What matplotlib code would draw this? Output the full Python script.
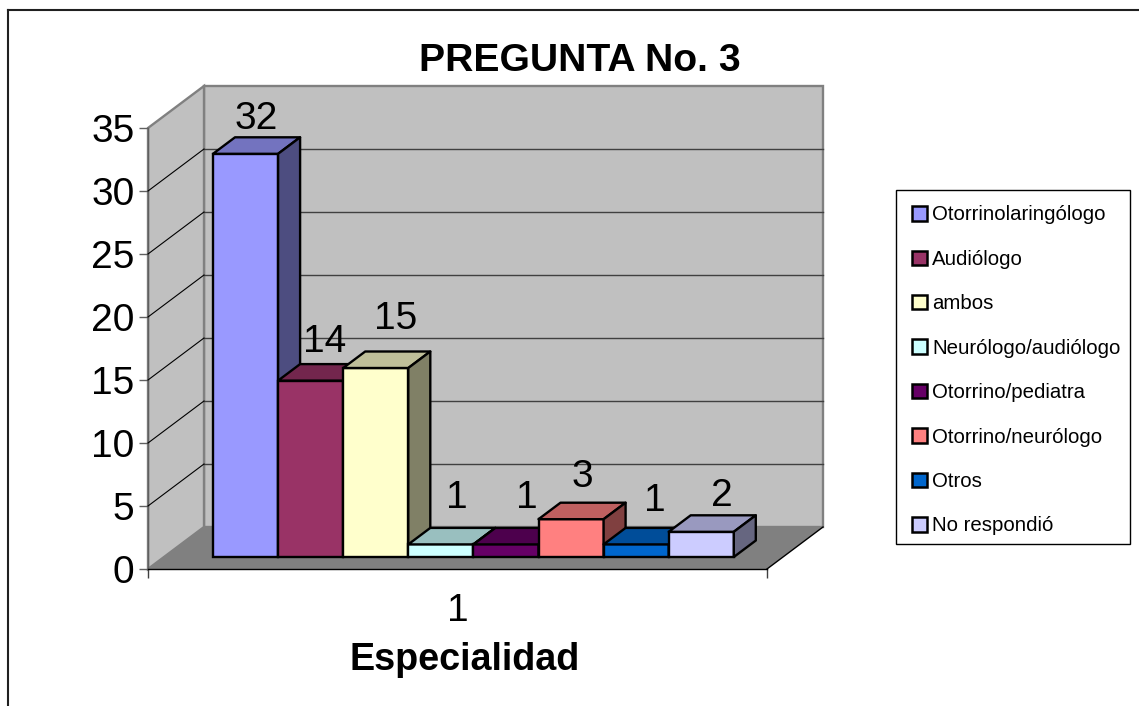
import matplotlib
matplotlib.use('Agg')
import matplotlib.pyplot as plt
from matplotlib.lines import Line2D
from matplotlib.patches import Patch, Polygon, Rectangle

plt.rcParams['font.family'] = ['Liberation Sans', 'DejaVu Sans']

categories = ['Otorrinolaringólogo', 'Audiólogo', 'ambos', 'Neurólogo/audiólogo',
              'Otorrino/pediatra', 'Otorrino/neurólogo', 'Otros', 'No respondió']
values = [32, 14, 15, 1, 1, 3, 1, 2]
colors = ['#9999FF', '#993366', '#FFFFCC', '#CCFFFF', '#660066', '#FF8080', '#0066CC', '#CCCCFF']
y_ticks = [0, 5, 10, 15, 20, 25, 30, 35]

W, H = 1139, 706
BAR_PX = 65.1
UNIT_PX = 12.6
X_MAX = 619 / BAR_PX
Y_MAX = 35
# full depth of the box, in data units
DX = 56 / BAR_PX
DY = 42 / UNIT_PX
BAR_D0 = 12 / 42
BAR_D1 = 28.5 / 42
BAR_X0 = 49 / BAR_PX
# value labels sit a bit irregularly in the original, nudge in pixels
LABEL_NUDGE = [(-11, -1), (-8, 3), (-2, 14), (-6, 11), (-1, 11), (-11, 7), (-3, 8), (-1, 0)]


def shade(color, k):
    r, g, b = matplotlib.colors.to_rgb(color)
    return (r * k, g * k, b * k)


def proj(x, y, d):
    return x + d * DX, y + d * DY


def draw_bar(ax, i, v, color):
    left = BAR_X0 + i
    right = left + 1
    x0, y0 = proj(left, 0, BAR_D0)
    ax.bar(x0, v, width=1, bottom=y0, align='edge', color=color, edgecolor='black',
           linewidth=1.7, zorder=5 + i)
    top = [proj(left, v, BAR_D0), proj(right, v, BAR_D0), proj(right, v, BAR_D1), proj(left, v, BAR_D1)]
    side = [proj(right, 0, BAR_D0), proj(right, v, BAR_D0), proj(right, v, BAR_D1), proj(right, 0, BAR_D1)]
    ax.add_patch(Polygon(top, closed=True, fc=shade(color, 0.75), ec='black', lw=1.7, zorder=5 + i, clip_on=False, joinstyle='round'))
    ax.add_patch(Polygon(side, closed=True, fc=shade(color, 0.5), ec='black', lw=1.7, zorder=5 + i, clip_on=False, joinstyle='round'))
    lx, ly = proj(left + 0.5, v, BAR_D1)
    nx, ny = LABEL_NUDGE[i]
    ax.text(lx + nx / BAR_PX, ly + 0.7 + ny / UNIT_PX, str(v), ha='center', va='baseline', fontsize=28,
            color='black', zorder=30, clip_on=False)


fig = plt.figure(figsize=(W / 100, H / 100), dpi=100, facecolor='white')
ax = fig.add_axes([148 / W, (H - 569) / H, 619 / W, 441 / H])
ax.set_xlim(0, X_MAX)
ax.set_ylim(0, Y_MAX)
ax.patch.set_visible(False)

# walls and floor
back = [proj(0, 0, 1), proj(X_MAX, 0, 1), proj(X_MAX, Y_MAX, 1), proj(0, Y_MAX, 1)]
left_wall = [(0, 0), proj(0, 0, 1), proj(0, Y_MAX, 1), (0, Y_MAX)]
floor = [(0, 0), (X_MAX, 0), proj(X_MAX, 0, 1), proj(0, 0, 1)]
ax.add_patch(Polygon(back, fc='#C0C0C0', ec='#808080', lw=1.7, zorder=1, clip_on=False))
ax.add_patch(Polygon(left_wall, fc='#C0C0C0', ec='#808080', lw=1.7, zorder=1, clip_on=False))
ax.add_patch(Polygon(floor, fc='#808080', ec='none', zorder=2, clip_on=False))
ax.plot([X_MAX, proj(X_MAX, 0, 1)[0]], [0, proj(X_MAX, 0, 1)[1]], color='black', lw=1, zorder=3, clip_on=False)

# gridlines, back wall and left wall
for t in y_ticks[1:-1]:
    bx, by = proj(0, t, 1)
    ex, ey = proj(X_MAX, t, 1)
    ax.plot([bx, ex], [by, ey], color='#404040', lw=1, zorder=3, clip_on=False)
    ax.plot([0, bx], [t, by], color='black', lw=0.8, zorder=3, clip_on=False)

for i, (v, c) in enumerate(zip(values, colors)):
    draw_bar(ax, i, v, c)

# axes
for s in ['top', 'right']:
    ax.spines[s].set_visible(False)
ax.spines['left'].set_color('#606060')
ax.spines['left'].set_linewidth(1)
ax.spines['bottom'].set_color('black')
ax.spines['bottom'].set_linewidth(1)
ax.set_yticks(y_ticks)
ax.tick_params(axis='y', length=6.5, width=1, color='#606060', labelsize=28, pad=3.2)
ax.set_xticks([0, X_MAX], ['', ''])
ax.set_xticks([X_MAX / 2], ['1'], minor=True)
ax.tick_params(axis='x', which='major', length=6.5, width=1, color='#404040')
ax.tick_params(axis='x', which='minor', length=0, labelsize=28, pad=17)

fig.text(580 / W, 1 - 61 / H, 'PREGUNTA No. 3', ha='center', va='center', fontsize=28.2, fontweight='bold')
fig.text(465 / W, 1 - 660 / H, 'Especialidad', ha='center', va='center', fontsize=27.2, fontweight='bold')

# legend frame is drawn apart so the box size can follow the original
fig.add_artist(Rectangle((896 / W, 1 - 544 / H), 234 / W, 354 / H, transform=fig.transFigure,
                         fc='white', ec='black', lw=1))
handles = [Patch(fc=c, ec='black', lw=1.8) for c in colors]
leg = fig.legend(handles, categories, loc='upper left', bbox_to_anchor=(912 / W, 1 - 205.5 / H),
                 fontsize=14.7, frameon=False,
                 handlelength=0.72, handleheight=0.72, handletextpad=0.28, labelspacing=1.245,
                 borderpad=0, borderaxespad=0)

# chart area border, cut by the image on the right and bottom
fig.add_artist(Line2D([8 / W, 8 / W], [0, 1 - 10 / H], color='#202020', lw=1.5))
fig.add_artist(Line2D([8 / W, 1], [1 - 10 / H, 1 - 10 / H], color='#202020', lw=1.5))

fig.savefig('out.png', dpi=100)
